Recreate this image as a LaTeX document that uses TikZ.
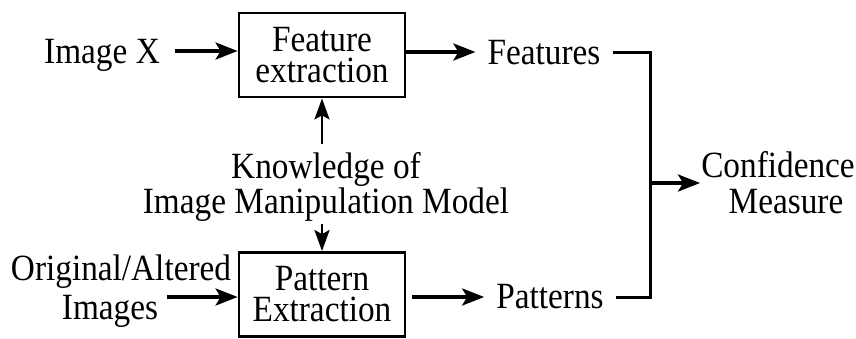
\documentclass[tikz,border=0pt]{standalone}
\usepackage{fontspec}
\setmainfont{Liberation Serif}[FakeStretch=0.9]
\usetikzlibrary{arrows.meta,calc}

\tikzset{
  word/.style={inner sep=0pt, text height=24pt, text depth=0pt},
  block/.style={inner sep=0pt, align=center},
  stagebox/.style={draw, line width=2.8pt, minimum width=166pt, minimum height=84pt,
    inner sep=0pt, align=center},
  flow/.style={line width=3.4pt, -{Stealth[length=22pt,width=17pt,inset=5pt]}},
  vflow/.style={line width=2.8pt, -{Stealth[length=21pt,width=15pt,inset=4pt]}},
  joint/.style={line width=3pt}
}

\begin{document}
\begin{tikzpicture}[x=1pt,y=-1pt, font=\fontsize{37}{31}\selectfont]
  \useasboundingbox (0,0) rectangle (856,338);

  % processing blocks
  \node[stagebox] (fe) at (322,55) {Feature\\extraction};
  \node[stagebox] (pe) at (322,294.5) {Pattern\\Extraction};

  % inputs and outputs
  \node[word] (imgx) at (102,51) {Image X};
  \node[word] (feat) at (544,52) {Features};
  \node[word] (pat)  at (550,296) {Patterns};
  \node[block] (orig) at (121,291) {Original/Altered\\[6pt]Images\hspace*{22pt}};
  \node[block] (know) at (326,187) {Knowledge of\\Image Manipulation Model};
  \node[block] (conf) at (778,183) {Confidence\\[5pt]\hspace*{16pt}Measure};

  \coordinate (origout) at (167,297);
  \coordinate (j) at (650,183);

  % arrows into and out of the blocks
  \draw[flow] ([xshift=15pt]imgx.east) -- (imgx.east -| fe.west);
  \draw[flow] (fe.east |- feat.west) -- ([xshift=-12pt]feat.west);
  \draw[flow] (origout) -- (origout -| pe.west);
  \draw[flow] ([xshift=6pt]pe.east |- origout) -- ([xshift=-12pt]pat.west |- origout);
  \draw[vflow] ([yshift=8pt]know.north -| fe.south) -- (fe.south);
  \draw[vflow] ([yshift=-2pt]know.south -| pe.north) -- (pe.north);

  % combining branch
  \draw[joint] ([xshift=12pt]feat.east) -| (j) |- ([xshift=12pt]pat.east |- origout);
  \draw[flow] (j) -- ([xshift=-1pt]conf.west |- j);
\end{tikzpicture}
\end{document}
